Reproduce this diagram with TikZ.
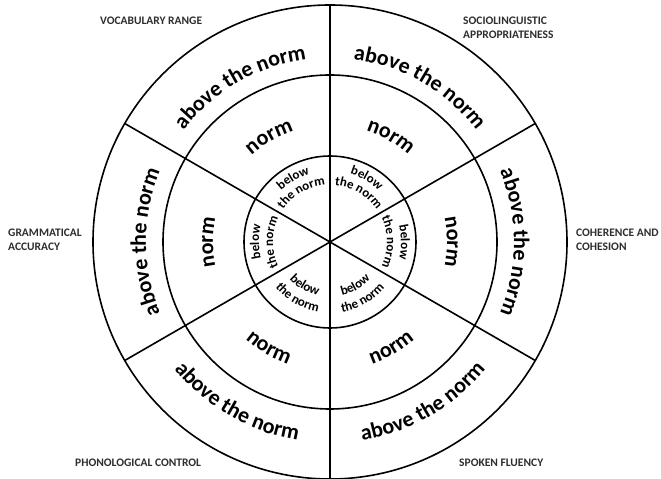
\documentclass[tikz,border=0pt]{standalone}
\usepackage{fontspec}
\setmainfont{Carlito}
\usetikzlibrary{decorations.text}
\definecolor{labelgray}{RGB}{45,45,45}
\newcommand{\ringBig}{\bfseries\fontsize{22}{26}\selectfont}
\newcommand{\ringSmall}{\bfseries\fontsize{13}{16}\selectfont}
% #1 start angle, #2 end angle, #3 radius, #4 text (with font)
\newcommand{\ringtext}[4]{\path[decorate,decoration={text along path,text align=center,text={#4}}] (#1:#3) arc[start angle=#1,end angle=#2,radius=#3];}
\begin{document}
\begin{tikzpicture}[x=1pt,y=1pt,
  ringline/.style={line width=1.6pt,draw=black},
  ringcircle/.style={circle,ringline,inner sep=0pt,outer sep=0pt},
  lbl/.style={font=\bfseries\fontsize{11.5}{14.5}\selectfont,align=left,anchor=west,inner sep=0pt,text=labelgray}]
\useasboundingbox (0,0) rectangle (661,479);
\coordinate (c) at (330,237);
\node[ringcircle,minimum size=474pt] (outer) at (c) {};
\node[ringcircle,minimum size=334pt] (middle) at (c) {};
\node[ringcircle,minimum size=172pt] (inner) at (c) {};
\draw[ringline] (outer.90) -- (outer.270);
\draw[ringline] (outer.150) -- (outer.330);
\draw[ringline] (outer.30) -- (outer.210);
\begin{scope}[shift={(c)}]
% outer ring
\ringtext{110}{10}{184}{|\ringBig|above the norm}
\ringtext{170}{70}{184}{|\ringBig|above the norm}
\ringtext{230}{130}{184}{|\ringBig|above the norm}
\ringtext{50}{-50}{184}{|\ringBig|above the norm}
\ringtext{190}{290}{201}{|\ringBig|above the norm}
\ringtext{250}{350}{201}{|\ringBig|above the norm}
% middle ring
\ringtext{110}{10}{117}{|\ringBig|norm}
\ringtext{170}{70}{117}{|\ringBig|norm}
\ringtext{230}{130}{117}{|\ringBig|norm}
\ringtext{50}{-50}{117}{|\ringBig|norm}
\ringtext{190}{290}{129}{|\ringBig|norm}
\ringtext{250}{350}{129}{|\ringBig|norm}
% inner ring
\ringtext{110}{10}{71}{|\ringSmall|below}
\ringtext{110}{10}{57}{|\ringSmall|the norm}
\ringtext{170}{70}{71}{|\ringSmall|below}
\ringtext{170}{70}{57}{|\ringSmall|the norm}
\ringtext{230}{130}{71}{|\ringSmall|below}
\ringtext{230}{130}{57}{|\ringSmall|the norm}
\ringtext{50}{-50}{71}{|\ringSmall|below}
\ringtext{50}{-50}{57}{|\ringSmall|the norm}
\ringtext{190}{290}{55}{|\ringSmall|below}
\ringtext{190}{290}{71}{|\ringSmall|the norm}
\ringtext{250}{350}{55}{|\ringSmall|below}
\ringtext{250}{350}{71}{|\ringSmall|the norm}
\end{scope}
% outer labels
\node[lbl] (vocab) at (100,458) {VOCABULARY RANGE};
\node[lbl] (socio) at (463,451) {SOCIOLINGUISTIC\\APPROPRIATENESS};
\node[lbl] (gram) at (8,239) {GRAMMATICAL\\ACCURACY};
\node[lbl] (coh) at (576,239) {COHERENCE AND\\COHESION};
\node[lbl] (phon) at (75,16) {PHONOLOGICAL CONTROL};
\node[lbl] (spok) at (459,16) {SPOKEN FLUENCY};
\end{tikzpicture}
\end{document}
